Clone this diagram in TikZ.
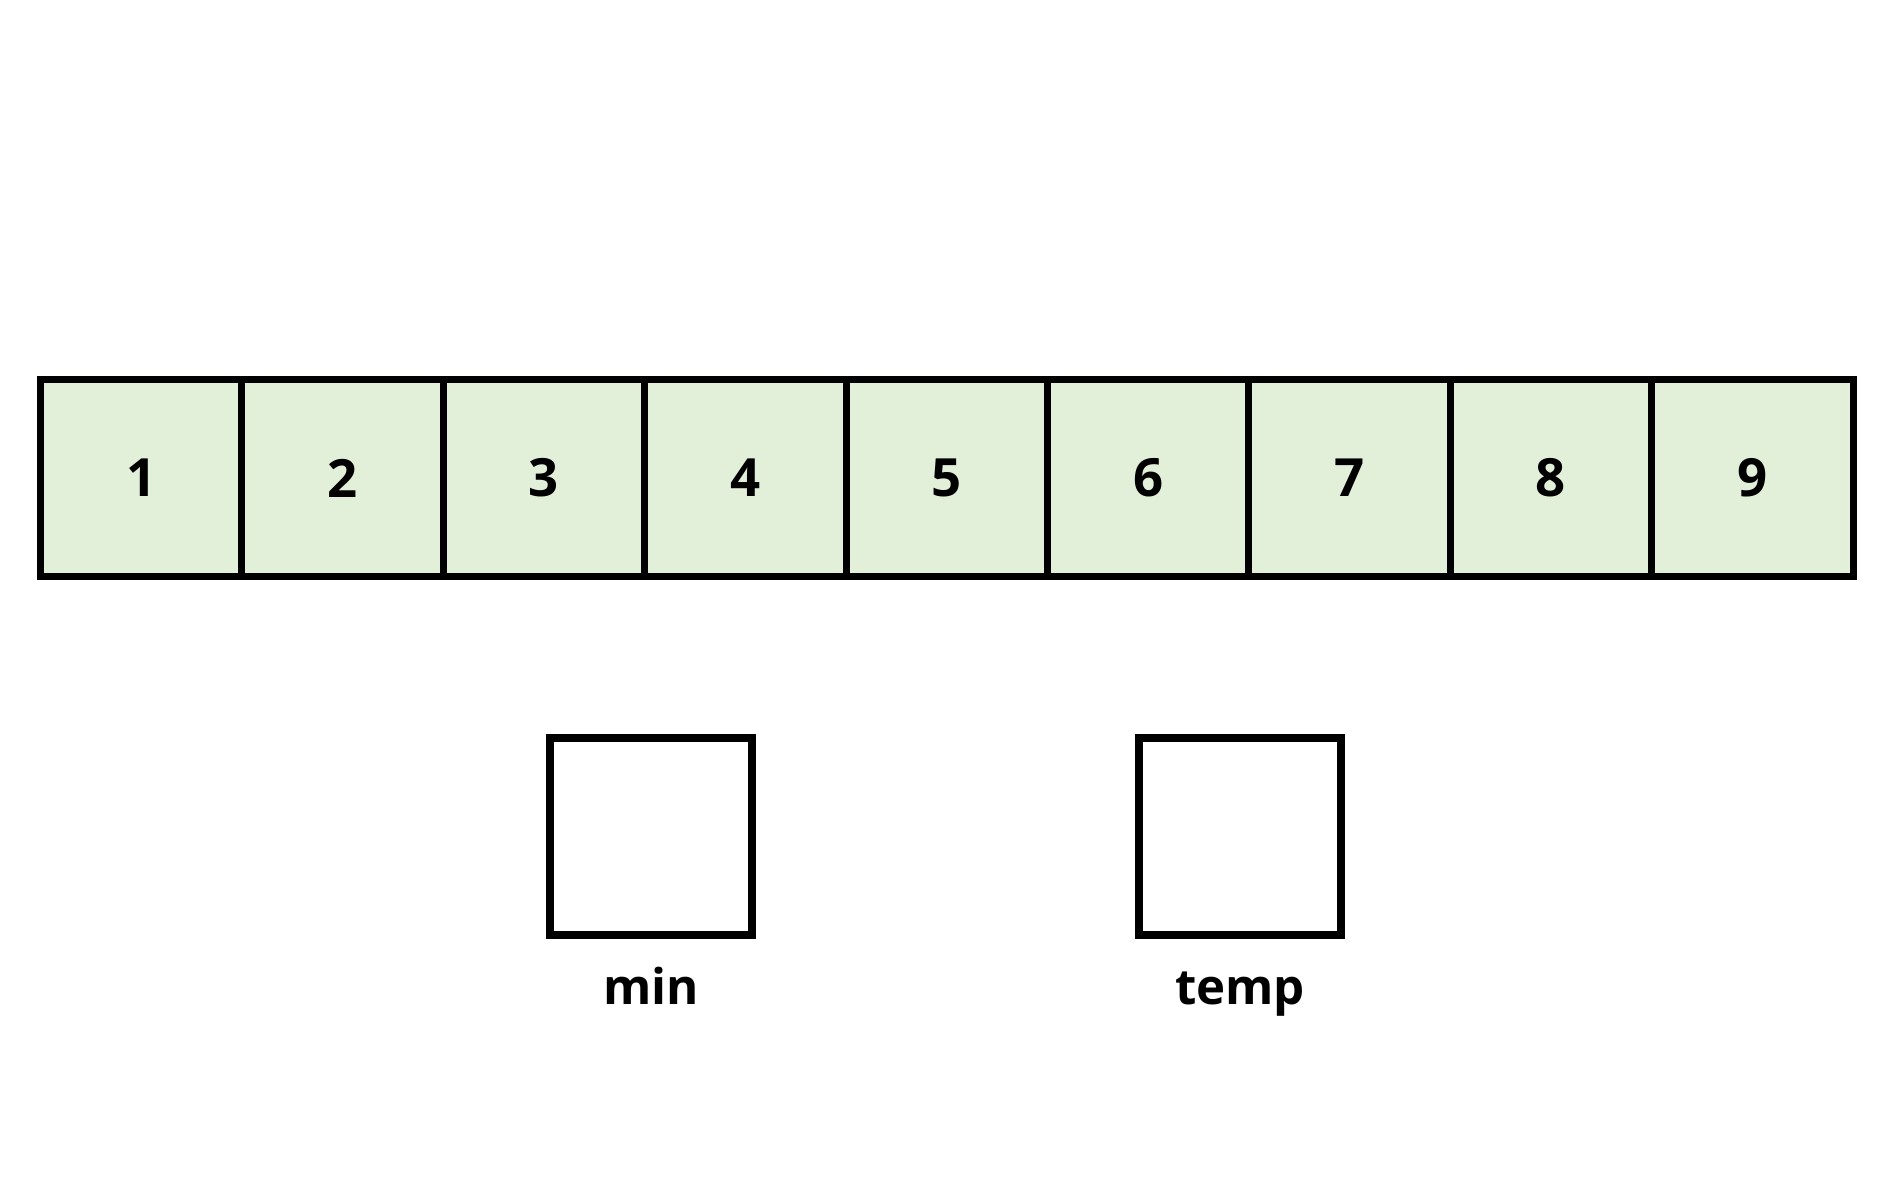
\documentclass[tikz,border=0pt]{standalone}
\usepackage{fontspec}
\setmainfont{Open Sans}
\usepackage{xcolor}
\usepackage{tikz}
\usetikzlibrary{positioning}
\definecolor{cellgreen}{HTML}{E2F0D9}

\begin{document}
\begin{tikzpicture}[
    cell/.style={draw,line width=2pt,fill=cellgreen,minimum width=2.014cm,minimum height=1.965cm,
      inner sep=0pt,outer sep=0pt,font=\bfseries\fontsize{15}{18}\selectfont},
    slot/.style={draw,line width=2pt,fill=white,minimum width=2.02cm,minimum height=1.97cm,
      inner sep=0pt,outer sep=0pt},
    tag/.style={anchor=base,font=\bfseries\fontsize{14}{17}\selectfont}]
  \useasboundingbox (0,0) rectangle (18.93,-11.81);
  % the array
  \node[cell] (c1) at (1.412,-4.78) {1};
  \foreach \i [remember=\i as \j (initially 1)] in {2,...,9}
    \node[cell,right=0pt of c\j] (c\i) {\i};
  % helper variables
  \node[slot] (minbox) at (6.51,-8.365) {};
  \node[slot] (tempbox) at (12.40,-8.365) {};
  \node[tag] (minlabel) at ([yshift=-0.69cm]minbox.south) {min};
  \node[tag] (templabel) at ([yshift=-0.69cm]tempbox.south) {temp};
\end{tikzpicture}
\end{document}
